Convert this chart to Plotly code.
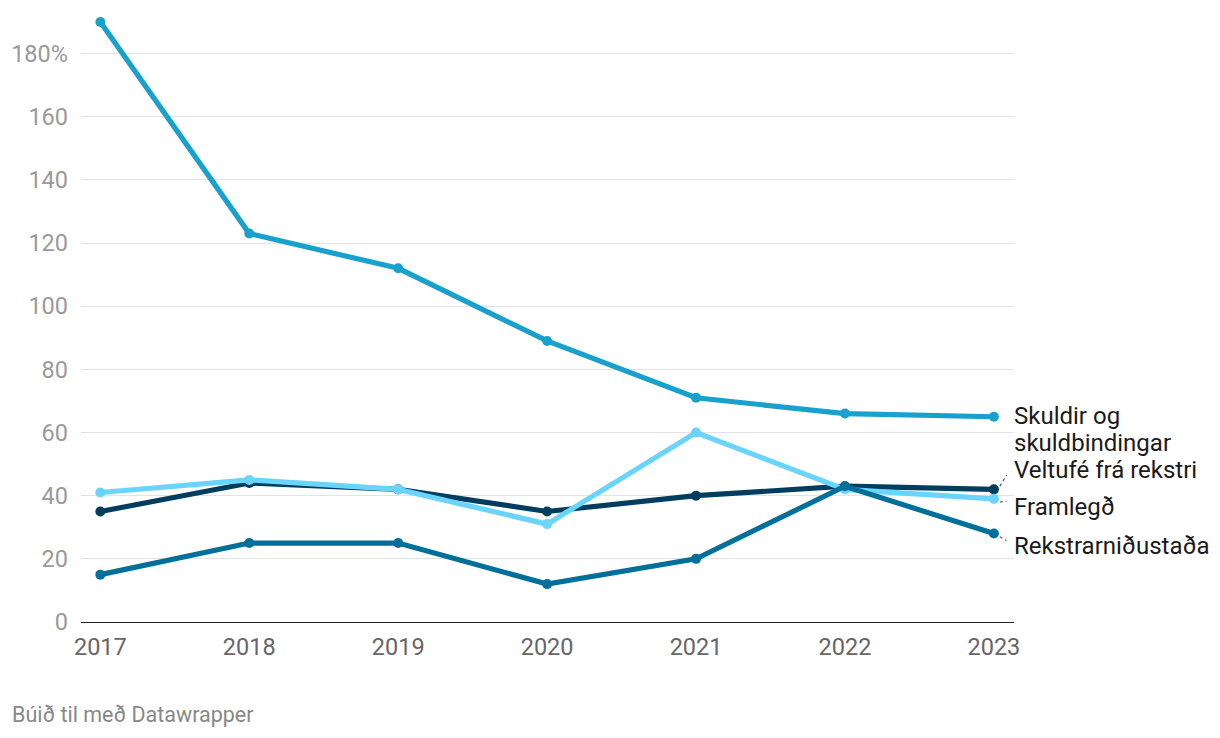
import plotly.graph_objects as go

years = [2017, 2018, 2019, 2020, 2021, 2022, 2023]
skuldir = [190, 123, 112, 89, 71, 66, 65]
veltufe = [35, 44, 42, 35, 40, 43, 42]
framlegd = [41, 45, 42, 31, 60, 42, 39]
rekstur = [15, 25, 25, 12, 20, 43, 28]

y_ticks = [0, 20, 40, 60, 80, 100, 120, 140, 160, 180]
y_ticklabels = ["0", "20", "40", "60", "80", "100", "120", "140", "160", "180%"]

series = [
    ("Veltufé frá rekstri", veltufe, "#003d5e"),
    ("Framlegð", framlegd, "#69d5fc"),
    ("Rekstrarniðustaða", rekstur, "#00709a"),
    ("Skuldir og skuldbindingar", skuldir, "#18a1cd"),
]

fig = go.Figure()
for name, vals, col in series:
    fig.add_trace(go.Scatter(
        x=years, y=vals, mode="lines+markers", name=name,
        line=dict(color=col, width=5.2),
        marker=dict(color=col, size=10),
        cliponaxis=False, showlegend=False,
    ))

# end labels (label position in data units)
labels = [
    ("Skuldir og", 65.2),
    ("skuldbindingar", 56.7),
    ("Veltufé frá rekstri", 48.1),
    ("Framlegð", 36.4),
    ("Rekstrarniðustaða", 24.1),
]
for text, ly in labels:
    fig.add_annotation(x=2023, y=ly, text=text, showarrow=False,
                       xanchor="left", xshift=18, align="left",
                       font=dict(family="Roboto", size=24, color="#1a1a1a"))

# dotted connectors
conns = [(veltufe[-1], 47.5), (framlegd[-1], 37.3), (rekstur[-1], 24.8)]
for v, ly in conns:
    fig.add_shape(type="line", x0=2023.04, y0=v + (1 if ly > v else -1),
                  x1=2023.085, y1=ly + (-1 if ly > v else 1),
                  line=dict(color="#555", width=1.2, dash="dot"))

fig.add_annotation(x=0, y=0, xref="paper", yref="paper", xanchor="left",
                   yanchor="top", xshift=-71, yshift=-78,
                   text="Búið til með Datawrapper", showarrow=False,
                   font=dict(family="Roboto", size=21.5, color="#888888"))

fig.update_layout(
    width=1220, height=738,
    margin=dict(l=81, r=206, t=22, b=116),
    plot_bgcolor="white", paper_bgcolor="white",
    font=dict(family="Roboto"),
    xaxis=dict(range=[2016.87, 2023.135], tickvals=years,
               ticktext=[str(y) for y in years], showgrid=False,
               tickfont=dict(size=23.5, color="#666666"),
               showline=True, linecolor="#222", linewidth=1.3,
               ticks="", ticklabelstandoff=4, zeroline=False),
    yaxis=dict(range=[0, 190], tickvals=y_ticks, ticktext=y_ticklabels,
               showgrid=True, gridcolor="#e3e3e3", gridwidth=1.2,
               tickfont=dict(size=23.5, color="#9a9a9a"),
               zeroline=False, ticks="", ticklabelstandoff=12),
)

fig.write_html("out.html")
